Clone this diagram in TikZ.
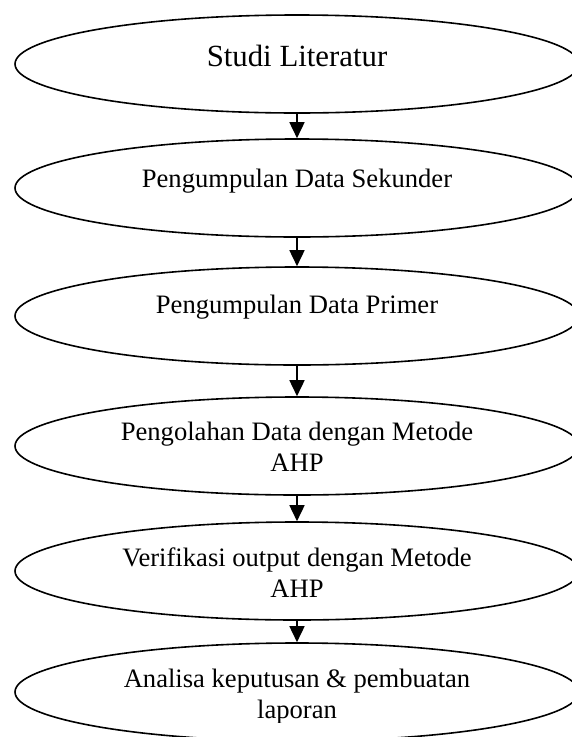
\documentclass[tikz,border=0pt]{standalone}
\usepackage{fontspec}
\setmainfont{Liberation Serif}
\usetikzlibrary{shapes.geometric,arrows.meta}

\tikzset{
  stage/.style={ellipse, draw=black, line width=1.6pt, inner sep=0pt,
    minimum width=564pt, minimum height=98pt},
  caption/.style={anchor=base, inner sep=0pt, align=center,
    font=\fontsize{26.6pt}{31pt}\selectfont},
  flow/.style={line width=1.6pt, -{Triangle[width=15pt,length=16pt]}}
}

\begin{document}
\begin{tikzpicture}[x=1pt,y=-1pt]
  \useasboundingbox (0,0) rectangle (571,737);

  % stages of the research procedure
  \node[stage] (s1) at (297,64)  {};
  \node[stage] (s2) at (297,188) {};
  \node[stage] (s3) at (297,316) {};
  \node[stage] (s4) at (297,446) {};
  \node[stage] (s5) at (297,571) {};
  \node[stage] (s6) at (297,692) {};

  % stage texts (two-line texts sit on the baseline of their last line)
  \node[caption, font=\fontsize{30.8pt}{36pt}\selectfont] (t1) at (297,66) {Studi Literatur};
  \node[caption] (t2) at (297,187) {Pengumpulan Data Sekunder};
  \node[caption] (t3) at (297,313) {Pengumpulan Data Primer};
  \node[caption] (t4) at (297,471) {Pengolahan Data dengan Metode\\AHP};
  \node[caption] (t5) at (297,597) {Verifikasi output dengan Metode\\AHP};
  \begin{scope}
    \clip (0,600) rectangle (571,722);
    \node[caption] (t6) at (297,718) {Analisa keputusan \& pembuatan\\laporan};
  \end{scope}

  % flow between stages
  \draw[flow] (s1.south) -- (s2.north);
  \draw[flow] (s2.south) -- (s3.north);
  \draw[flow] (s3.south) -- (s4.north);
  \draw[flow] (s4.south) -- (s5.north);
  \draw[flow] (s5.south) -- (s6.north);
\end{tikzpicture}
\end{document}
